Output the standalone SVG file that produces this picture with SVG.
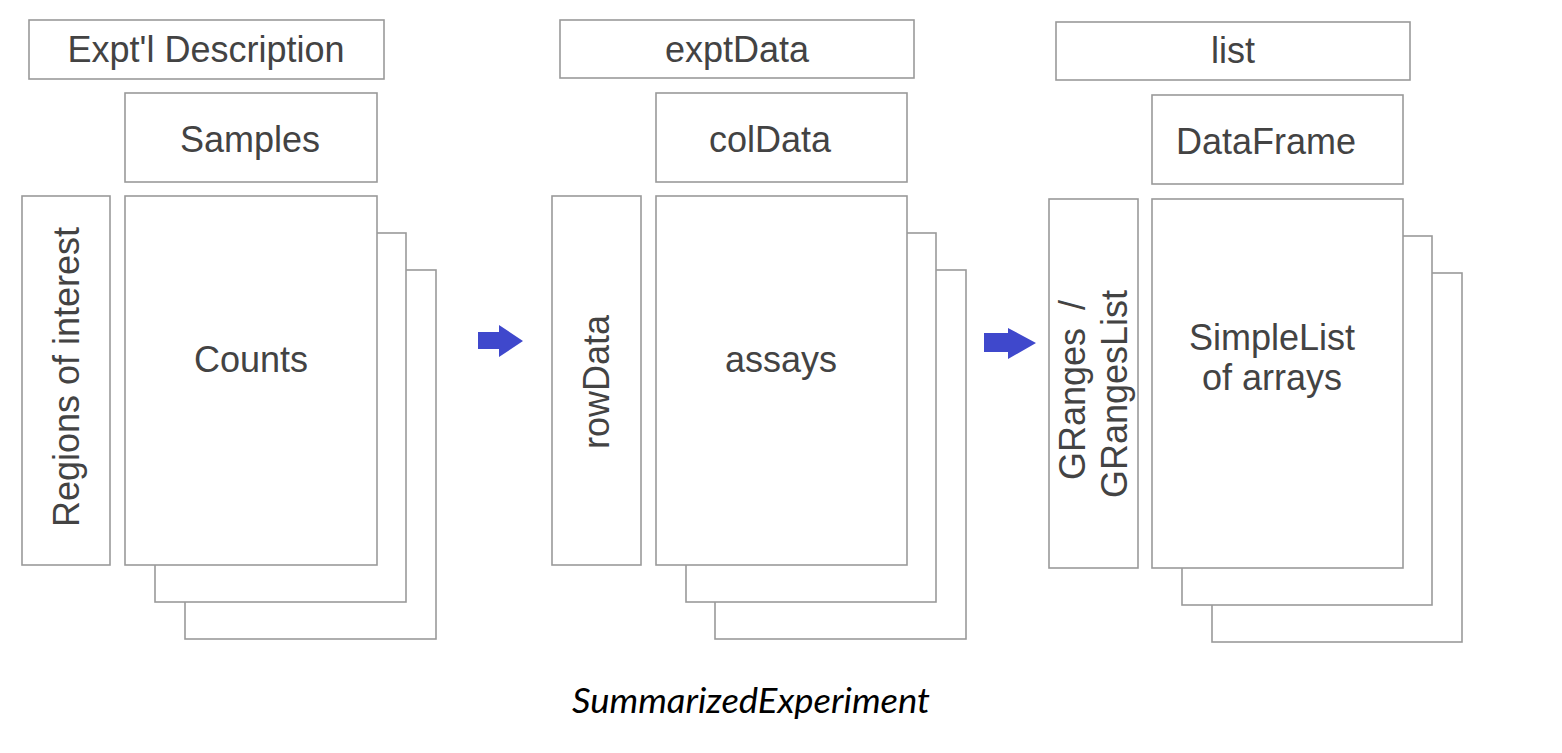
<svg xmlns="http://www.w3.org/2000/svg" width="1562" height="753" viewBox="0 0 1562 753">
<style>
.b{fill:#fff;stroke:#9a9a9a;stroke-width:1.6}
.t{font-family:"Liberation Sans",Arial,sans-serif;font-size:36px;fill:#434343;text-anchor:middle}
.cap{font-family:Lato,"Open Sans",sans-serif;font-style:italic;font-size:35px;fill:#000}
.arr{fill:#3f48cc}
</style>
<rect width="1562" height="753" fill="#fff"/>
<g id="panel1">
<g id="expt-desc"><rect class="b" x="29" y="20" width="355" height="59"/><text class="t" x="206" y="62">Expt'l Description</text></g>
<g id="samples"><rect class="b" x="125" y="93" width="252" height="89"/><text class="t" x="250" y="152">Samples</text></g>
<g id="regions"><rect class="b" x="22" y="196" width="88" height="369"/><text class="t" transform="translate(79,377) rotate(-90)">Regions of interest</text></g>
<g id="counts">
<rect class="b" x="185" y="270" width="251" height="369"/>
<rect class="b" x="155" y="233" width="251" height="369"/>
<rect class="b" x="125" y="196" width="252" height="369"/>
<text class="t" x="251" y="372">Counts</text></g>
</g>
<g id="panel2">
<g id="exptData"><rect class="b" x="560" y="20" width="354" height="58"/><text class="t" x="737" y="62">exptData</text></g>
<g id="colData"><rect class="b" x="656" y="93" width="251" height="89"/><text class="t" x="770" y="152">colData</text></g>
<g id="rowData"><rect class="b" x="552" y="196" width="89" height="369"/><text class="t" transform="translate(609,382) rotate(-90)">rowData</text></g>
<g id="assays">
<rect class="b" x="715" y="270" width="251" height="369"/>
<rect class="b" x="686" y="233" width="250" height="369"/>
<rect class="b" x="656" y="196" width="251" height="369"/>
<text class="t" x="781" y="372">assays</text></g>
</g>
<g id="panel3">
<g id="list"><rect class="b" x="1056" y="22" width="354" height="58"/><text class="t" x="1233" y="63">list</text></g>
<g id="DataFrame"><rect class="b" x="1152" y="95" width="251" height="89"/><text class="t" x="1266" y="154">DataFrame</text></g>
<g id="granges"><rect class="b" x="1049" y="199" width="89" height="369"/>
<text class="t" style="text-anchor:start" word-spacing="8" transform="translate(1085,480) rotate(-90)">GRanges /</text>
<text class="t" style="text-anchor:start" transform="translate(1127,498) rotate(-90)">GRangesList</text></g>
<g id="simplelist">
<rect class="b" x="1212" y="273" width="250" height="369"/>
<rect class="b" x="1182" y="236" width="250" height="369"/>
<rect class="b" x="1152" y="199" width="251" height="369"/>
<text class="t" x="1272" y="350">SimpleList</text>
<text class="t" x="1272" y="390">of arrays</text></g>
</g>
<g id="connectors">
<polygon class="arr" points="478,332 499,332 499,325 523,341 499,357 499,349 478,349"/>
<polygon class="arr" points="984,333 1008,333 1008,328 1036,343 1008,359 1008,352 984,352"/>
</g>
<text class="cap" x="572" y="713" textLength="358" lengthAdjust="spacingAndGlyphs">SummarizedExperiment</text>
</svg>
